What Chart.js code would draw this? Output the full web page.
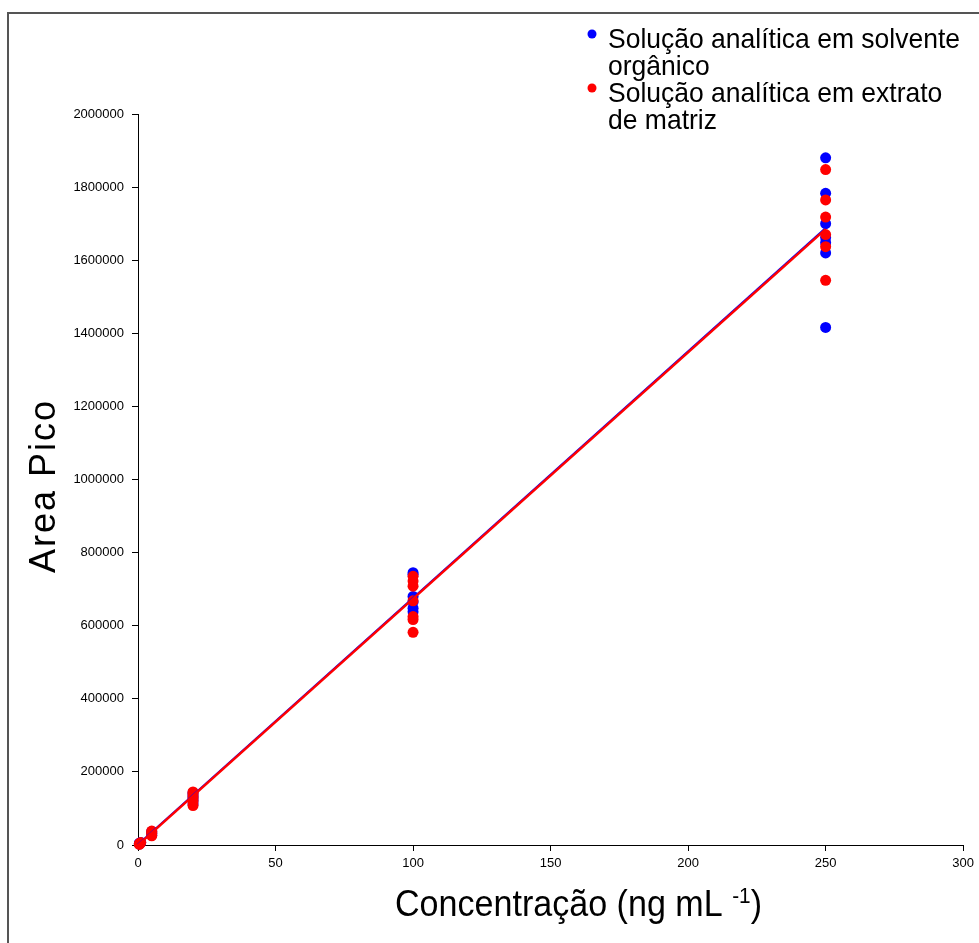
<!DOCTYPE html>
<html>
<head>
<meta charset="utf-8">
<script src="https://cdn.jsdelivr.net/npm/chart.js@4.4.1/dist/chart.umd.min.js"></script>
<style>
    html, body { margin: 0; padding: 0; background: #fff; overflow: hidden; }
    #moldura { position: absolute; left: 7px; top: 12px; width: 1200px; height: 1200px; border-left: 2px solid #555; border-top: 2px solid #555; }
    #grafico { position: absolute; left: 0; top: 0; }
</style>
</head>
<body>
<div id="moldura"></div>
<canvas id="grafico" width="979" height="943"></canvas>
<script>
// concentracoes (ng mL-1) e areas de pico
const solventeX = [0.5, 0.5, 1, 5, 5, 5, 20, 20, 20, 20, 20,
    100, 100, 100, 100, 100, 100, 250, 250, 250, 250, 250, 250, 250];
const solventeY = [2500, 5000, 7000, 27000, 32000, 37000, 112000, 122000, 130000, 137000, 143000,
    745000, 740000, 680000, 665000, 648000, 638000, 1880000, 1783000, 1700000, 1662000, 1648000, 1620000, 1416000];

const matrizX = [0.5, 0.5, 1, 5, 5, 5, 5, 20, 20, 20, 20, 20, 20,
    100, 100, 100, 100, 100, 100, 100, 250, 250, 250, 250, 250, 250];
const matrizY = [1500, 4000, 6500, 25000, 30000, 35000, 38000, 108000, 118000, 126000, 133000, 140000, 145000,
    735000, 722000, 708000, 668000, 625000, 617000, 582000, 1848000, 1765000, 1718000, 1670000, 1637000, 1545000];

// retas de regressao (extremos)
const retaSolventeX = [0, 250];
const retaSolventeY = [1500, 1688000];
const retaMatrizX = [0, 250];
const retaMatrizY = [-500, 1685000];

const legendaTextos = [
    ['Solução analítica em solvente', 'orgânico'],
    ['Solução analítica em extrato', 'de matriz']
];

const fonte = '"Liberation Sans", Arial, sans-serif';
const azul = 'rgb(0,0,255)';
const vermelho = 'rgb(255,0,0)';

function pares(xs, ys) {
    return xs.map((x, i) => ({ x: x, y: ys[i] }));
}

// titulos dos eixos e legenda
const textosPlugin = {
    id: 'textos',
    afterDraw(chart) {
        const ctx = chart.ctx;
        ctx.save();
        ctx.fillStyle = '#000';

        // titulo y
        ctx.save();
        ctx.translate(55, 486);
        ctx.rotate(-Math.PI / 2);
        ctx.font = '36px ' + fonte;
        ctx.letterSpacing = '2px';
        ctx.textAlign = 'center';
        ctx.textBaseline = 'alphabetic';
        ctx.fillText('Area Pico', 0, 0);
        ctx.restore();

        // titulo x com expoente
        ctx.save();
        ctx.textBaseline = 'alphabetic';
        ctx.textAlign = 'left';
        const parte1 = 'Concentração (ng mL ';
        const expo = '-1';
        const parte2 = ')';
        ctx.font = '36px ' + fonte;
        const w1 = ctx.measureText(parte1).width;
        const w3 = ctx.measureText(parte2).width;
        ctx.font = '22px ' + fonte;
        const w2 = ctx.measureText(expo).width;
        const escala = (762 - 395) / (w1 + w2 + w3);
        ctx.translate(395, 916);
        ctx.scale(escala, 1);
        ctx.font = '36px ' + fonte;
        ctx.fillText(parte1, 0, 0);
        ctx.font = '22px ' + fonte;
        ctx.fillText(expo, w1, -13);
        ctx.font = '36px ' + fonte;
        ctx.fillText(parte2, w1 + w2, 0);
        ctx.restore();

        // legenda
        const cores = [azul, vermelho];
        const linhas = [48, 75, 102, 129];
        ctx.font = '28px ' + fonte;
        const larg = ctx.measureText(legendaTextos[0][0]).width;
        const esc = 352 / larg;
        legendaTextos.forEach((item, i) => {
            ctx.fillStyle = cores[i];
            ctx.beginPath();
            ctx.arc(592, linhas[i * 2] - 14, 4.5, 0, Math.PI * 2);
            ctx.fill();
            ctx.fillStyle = '#000';
            item.forEach((txt, j) => {
                ctx.save();
                ctx.translate(608, linhas[i * 2 + j]);
                ctx.scale(esc, 1);
                ctx.fillText(txt, 0, 0);
                ctx.restore();
            });
        });
        ctx.restore();
    }
};

const ctx = document.getElementById('grafico').getContext('2d');
window.grafico = new Chart(ctx, {
    type: 'scatter',
    data: {
        datasets: [
            {
                type: 'line',
                data: pares(retaMatrizX, retaMatrizY),
                borderColor: vermelho,
                borderWidth: 2.5,
                pointRadius: 0,
                clip: false,
                order: 0
            },
            {
                type: 'line',
                data: pares(retaSolventeX, retaSolventeY),
                borderColor: azul,
                borderWidth: 2,
                pointRadius: 0,
                clip: false,
                order: 1
            },
            {
                data: pares(matrizX, matrizY),
                backgroundColor: vermelho,
                borderWidth: 0,
                pointRadius: 5.5,
                clip: false,
                order: 2
            },
            {
                data: pares(solventeX, solventeY),
                backgroundColor: azul,
                borderWidth: 0,
                pointRadius: 5.5,
                clip: false,
                order: 3
            }
        ]
    },
    options: {
        responsive: false,
        animation: false,
        layout: { padding: { top: 114, right: 15, left: 0, bottom: 0 } },
        plugins: {
            legend: { display: false },
            tooltip: { enabled: false }
        },
        scales: {
            x: {
                type: 'linear',
                min: 0,
                max: 300,
                ticks: { stepSize: 50, color: '#000', font: { size: 13, family: fonte }, padding: 5, maxRotation: 0 },
                grid: { drawOnChartArea: false, drawTicks: true, tickLength: 6, color: '#000' },
                border: { color: '#000', width: 1 },
                afterFit: s => { s.height = 98; }
            },
            y: {
                min: 0,
                max: 2000000,
                ticks: { stepSize: 200000, color: '#000', font: { size: 13, family: fonte }, padding: 8, callback: v => String(v) },
                grid: { drawOnChartArea: false, drawTicks: true, tickLength: 6, color: '#000' },
                border: { color: '#000', width: 1 },
                afterFit: s => { s.width = 138; }
            }
        }
    },
    plugins: [textosPlugin]
});
</script>
</body>
</html>
